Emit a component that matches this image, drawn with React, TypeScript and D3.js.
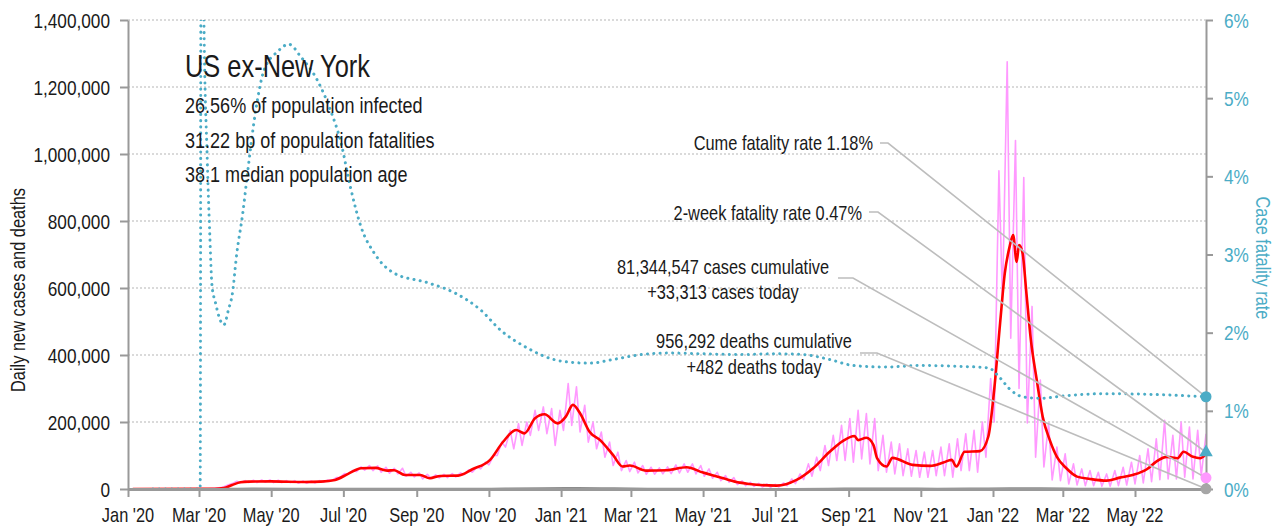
import { useEffect, useRef } from "react";
import * as d3 from "d3";

// condensed look: Liberation Sans squeezed horizontally
const FONT = "'Liberation Sans', Arial, sans-serif";
const SX = 0.82;
const BLUE = "#4bacc6";
const PINK = "#ff99ff";
const RED = "#ff0000";
const GREY = "#999999";
const LEADER = "#bdbdbd";
const INK = "#1a1a1a";

// ── axes ──────────────────────────────────────────────
const casesTicks = [0, 200000, 400000, 600000, 800000, 1000000, 1200000, 1400000];
const cfrTicks = [0, 1, 2, 3, 4, 5, 6];

// ── header text ───────────────────────────────────────
const title = "US ex-New York";
const statLines = [
  "26.56% of population infected",
  "31.22 bp of population fatalities",
  "38.1 median population age",
];

// ── latest values (markers at right edge) ─────────────
const cumeCfr = 1.18;
const twoWeekCfr = 0.47;
const casesToday = 33313;
const deathsToday = 482;

// ── 7-day average new cases (thousands) ───────────────
const casesAvg: [string, number][] = [
  ["2020-01-05", 0], ["2020-03-14", 0.5], ["2020-03-22", 3], ["2020-03-29", 12], ["2020-04-05", 20],
  ["2020-04-12", 22], ["2020-05-01", 22.7], ["2020-05-15", 21.5], ["2020-05-29", 21], ["2020-06-12", 22],
  ["2020-06-24", 27], ["2020-07-05", 45], ["2020-07-16", 62], ["2020-07-28", 63], ["2020-08-07", 55],
  ["2020-08-13", 56], ["2020-08-22", 42], ["2020-09-04", 42], ["2020-09-12", 32], ["2020-09-21", 39],
  ["2020-10-06", 40], ["2020-10-18", 59], ["2020-11-02", 87], ["2020-11-13", 141], ["2020-11-24", 176],
  ["2020-12-01", 166], ["2020-12-10", 211], ["2020-12-18", 223], ["2020-12-29", 196], ["2021-01-05", 216],
  ["2021-01-11", 251], ["2021-01-17", 226], ["2021-01-25", 171], ["2021-02-03", 146], ["2021-02-14", 101],
  ["2021-02-22", 67], ["2021-02-28", 70], ["2021-03-14", 55], ["2021-03-31", 56], ["2021-04-17", 65],
  ["2021-05-01", 49], ["2021-05-18", 32], ["2021-06-01", 19], ["2021-06-09", 15], ["2021-07-02", 10],
  ["2021-07-19", 27], ["2021-08-02", 62], ["2021-08-16", 111], ["2021-08-27", 143], ["2021-09-06", 158],
  ["2021-09-09", 146], ["2021-09-16", 153], ["2021-09-22", 131], ["2021-09-25", 92], ["2021-10-03", 67],
  ["2021-10-08", 93], ["2021-10-25", 72], ["2021-11-09", 69], ["2021-11-20", 79], ["2021-11-27", 87],
  ["2021-12-01", 67], ["2021-12-08", 111], ["2021-12-21", 113], ["2021-12-28", 156], ["2022-01-02", 296],
  ["2022-01-07", 495], ["2022-01-11", 645], ["2022-01-15", 723], ["2022-01-18", 758], ["2022-01-21", 678],
  ["2022-01-23", 728], ["2022-01-26", 704], ["2022-01-29", 594], ["2022-02-02", 445], ["2022-02-07", 325],
  ["2022-02-12", 216], ["2022-02-18", 146], ["2022-02-24", 96], ["2022-03-04", 62], ["2022-03-13", 37],
  ["2022-03-24", 30], ["2022-04-07", 25], ["2022-04-18", 34], ["2022-04-29", 42], ["2022-05-11", 59],
  ["2022-05-19", 82], ["2022-05-28", 96], ["2022-06-06", 92], ["2022-06-11", 111], ["2022-06-19", 96],
  ["2022-06-25", 92], ["2022-06-30", 104],
];

// ── daily new cases: weekly high / low (thousands), weeks from Sun 1 Mar 2020 ──
const dailyWeekStart = "2020-03-01";
const dailyHigh = [
  0.5, 1, 4, 13, 23, 25, 26, 27, 27, 26, 25, 25, 24, 24, 25, 27, 34, 46, 56, 66,
  70, 69, 65, 62, 62, 50, 48, 44, 42, 44, 46, 48, 57, 66, 80, 100, 140, 175, 195, 200,
  235, 245, 240, 235, 315, 305, 250, 200, 170, 140, 110, 85, 80, 70, 65, 63, 66, 72, 75, 75,
  70, 60, 50, 40, 34, 24, 20, 17, 15, 14, 18, 30, 45, 75, 95, 130, 160, 190, 210, 235,
  225, 210, 160, 140, 135, 120, 115, 110, 115, 125, 135, 150, 165, 175, 200, 330, 950, 1275, 1040, 930,
  545, 325, 197, 125, 105, 75, 60, 55, 50, 45, 55, 65, 80, 100, 120, 150, 205, 160, 200, 185,
  175, 165,
];
const dailyLow = [
  0.2, 0.4, 1.5, 7, 16, 19, 19, 19, 20, 19, 19, 19, 17, 17, 18, 20, 25, 35, 44, 52,
  56, 55, 50, 47, 45, 38, 36, 30, 31, 33, 34, 36, 43, 50, 60, 72, 100, 125, 120, 130,
  160, 175, 165, 130, 175, 190, 170, 140, 120, 95, 70, 55, 52, 48, 44, 44, 45, 46, 48, 50,
  45, 38, 32, 25, 20, 13, 10, 8, 6, 5, 6, 10, 16, 28, 38, 55, 70, 85, 85, 80,
  90, 75, 55, 50, 45, 40, 38, 35, 35, 40, 40, 35, 55, 55, 50, 95, 200, 560, 450, 300,
  197, 95, 66, 27, 25, 15, 12, 10, 10, 8, 8, 10, 12, 15, 18, 22, 28, 30, 30, 35,
  30, 40,
];

// ── 7-day average new deaths (thousands) ──────────────
const deathsAvg: [string, number][] = [
  ["2020-01-05", 0], ["2020-03-10", 0], ["2020-03-25", 0.4], ["2020-04-15", 1.3], ["2020-05-15", 1.1],
  ["2020-06-15", 0.6], ["2020-07-15", 0.8], ["2020-08-10", 1.0], ["2020-09-15", 0.7], ["2020-10-15", 0.7],
  ["2020-11-15", 1.2], ["2020-12-15", 2.3], ["2021-01-15", 2.9], ["2021-02-15", 2.1], ["2021-03-15", 1.0],
  ["2021-04-15", 0.65], ["2021-05-15", 0.55], ["2021-06-15", 0.3], ["2021-07-15", 0.25], ["2021-08-15", 0.8],
  ["2021-09-15", 1.8], ["2021-10-15", 1.4], ["2021-11-15", 1.0], ["2021-12-15", 1.2], ["2022-01-15", 1.9],
  ["2022-02-10", 2.2], ["2022-03-15", 1.0], ["2022-04-15", 0.45], ["2022-05-15", 0.3], ["2022-06-30", 0.3],
];

// ── case fatality rate (%) ────────────────────────────
const cfr: [string, number][] = [
  ["2020-01-22", 0], ["2020-03-01", 0], ["2020-03-02", 0], ["2020-03-03", 11], ["2020-03-05", 6.2],
  ["2020-03-08", 4.2], ["2020-03-10", 3.3], ["2020-03-12", 2.6], ["2020-03-15", 2.38], ["2020-03-18", 2.2],
  ["2020-03-22", 2.1], ["2020-03-26", 2.3], ["2020-03-29", 2.48], ["2020-04-02", 3.02], ["2020-04-07", 3.53],
  ["2020-04-11", 4.04], ["2020-04-18", 4.85], ["2020-04-25", 5.36], ["2020-05-06", 5.59], ["2020-05-16", 5.69],
  ["2020-05-26", 5.53], ["2020-06-09", 5.23], ["2020-06-20", 4.85], ["2020-06-29", 4.43], ["2020-07-07", 3.86],
  ["2020-07-16", 3.35], ["2020-07-27", 3.02], ["2020-08-13", 2.76], ["2020-09-10", 2.64], ["2020-10-03", 2.51],
  ["2020-10-25", 2.29], ["2020-11-11", 2.03], ["2020-12-04", 1.8], ["2020-12-25", 1.66], ["2021-01-10", 1.62],
  ["2021-01-25", 1.61], ["2021-02-15", 1.66], ["2021-03-10", 1.72], ["2021-04-01", 1.74], ["2021-05-01", 1.73],
  ["2021-06-01", 1.72], ["2021-07-01", 1.73], ["2021-07-25", 1.72], ["2021-08-15", 1.66], ["2021-09-05", 1.58],
  ["2021-10-01", 1.56], ["2021-11-01", 1.58], ["2021-12-01", 1.57], ["2021-12-28", 1.55], ["2022-01-07", 1.42],
  ["2022-01-15", 1.28], ["2022-01-26", 1.18], ["2022-02-10", 1.16], ["2022-03-01", 1.19], ["2022-04-07", 1.22],
  ["2022-05-15", 1.21], ["2022-06-30", 1.18],
];

// ── right-side callouts ───────────────────────────────
const callouts = [
  { lines: ["Cume fatality rate 1.18%"], anchor: "end", tx: 873, ty: [150], lx: 880, ly: 143, bend: 888, target: "cume" },
  { lines: ["2-week fatality rate 0.47%"], anchor: "end", tx: 862, ty: [220], lx: 869, ly: 212, bend: 878, target: "twoWeek" },
  { lines: ["81,344,547 cases cumulative", "+33,313 cases today"], anchor: "middle", tx: 723, ty: [274, 299], lx: 838, ly: 278, bend: 853, target: "cases" },
  { lines: ["956,292 deaths cumulative", "+482 deaths today"], anchor: "middle", tx: 754, ty: [348, 374], lx: 860, ly: 353, bend: 877, target: "deaths" },
];

type Sel = d3.Selection<any, unknown, null, undefined>;

function label(parent: Sel, x: number, y: number, str: string, size: number, fill: string, anchor = "start", rotate = 0) {
  return parent.append("text")
    .attr("transform", `translate(${x},${y}) rotate(${rotate}) scale(${SX},1)`)
    .attr("text-anchor", anchor)
    .attr("font-family", FONT).attr("font-size", size).attr("fill", fill)
    .text(str);
}

export default function App() {
  const svgRef = useRef<SVGSVGElement>(null);

  useEffect(() => {
    document.body.style.margin = "0";
    if (!svgRef.current) return;
    const svg = d3.select(svgRef.current);
    svg.selectAll("*").remove();

    const L = 128, R = 1206, T = 20, B = 489;
    const parse = d3.utcParse("%Y-%m-%d");
    const x = d3.scaleUtc().domain([parse("2020-01-01")!, parse("2022-06-30")!]).range([L, R]);
    const y = d3.scaleLinear().domain([0, 1400000]).range([B, T]);
    const yR = d3.scaleLinear().domain([0, 6]).range([B, T]);

    svg.append("defs").append("clipPath").attr("id", "plot-clip")
      .append("rect").attr("x", L).attr("y", T).attr("width", R - L).attr("height", B - T);

    // ── gridlines ──
    svg.append("g").selectAll("line").data(casesTicks.slice(1)).join("line")
      .attr("x1", L).attr("x2", R)
      .attr("y1", d => y(d)).attr("y2", d => y(d))
      .attr("stroke", "#b5b5b5").attr("stroke-width", 1)
      .attr("stroke-dasharray", "2,2");

    const plot = svg.append("g").attr("clip-path", "url(#plot-clip)");

    // ── daily cases (pink) ──
    const ws = parse(dailyWeekStart)!;
    const pinkPts: [Date, number][] = [[parse("2020-01-05")!, 0]];
    dailyHigh.forEach((hi, i) => {
      const d0 = d3.utcDay.offset(ws, 7 * i);
      pinkPts.push([d0, dailyLow[i] * 1000]);
      pinkPts.push([d3.utcDay.offset(d0, 4), hi * 1000]);
    });
    plot.append("path")
      .datum(pinkPts)
      .attr("fill", "none").attr("stroke", PINK).attr("stroke-width", 1.6)
      .attr("stroke-linejoin", "round")
      .attr("d", d3.line<[Date, number]>().x(d => x(d[0])).y(d => y(d[1])));

    // ── 7-day avg cases (red) ──
    plot.append("path")
      .datum(casesAvg)
      .attr("fill", "none").attr("stroke", RED).attr("stroke-width", 2.6)
      .attr("stroke-linejoin", "round")
      .attr("d", d3.line<[string, number]>()
        .curve(d3.curveMonotoneX)
        .x(d => x(parse(d[0])!)).y(d => y(d[1] * 1000)));

    // ── deaths (grey) ──
    plot.append("path")
      .datum(deathsAvg)
      .attr("fill", "none").attr("stroke", "#8c8c8c").attr("stroke-width", 2)
      .attr("d", d3.line<[string, number]>()
        .curve(d3.curveMonotoneX)
        .x(d => x(parse(d[0])!)).y(d => y(d[1] * 1000)));

    // ── header text ──
    label(svg, 185, 77, title, 31, INK);
    statLines.forEach((s, i) => label(svg, 185, 113 + i * 34.7, s, 22, INK));

    // ── case fatality rate (blue dotted) ──
    plot.append("path")
      .datum(cfr)
      .attr("fill", "none").attr("stroke", BLUE).attr("stroke-width", 3)
      .attr("stroke-linecap", "round").attr("stroke-dasharray", "0.1,6.2")
      .attr("d", d3.line<[string, number]>()
        .curve(d3.curveMonotoneX)
        .x(d => x(parse(d[0])!)).y(d => yR(d[1])));

    // ── axes (lines via d3-axis, labels drawn squeezed) ──
    const styleAxis = (g: Sel) => {
      g.select(".domain").attr("stroke", GREY).attr("stroke-width", 2);
      g.selectAll(".tick line").attr("stroke", GREY).attr("stroke-width", 2);
      g.selectAll(".tick text").remove();
    };

    const xTicks = x.ticks(d3.utcMonth.every(2)!);
    const gx = svg.append("g").attr("transform", `translate(0,${B})`)
      .call(d3.axisBottom(x).tickValues(xTicks).tickSize(8).tickSizeOuter(0));
    styleAxis(gx);
    gx.select(".domain").attr("stroke-width", 3);
    const fmtX = d3.utcFormat("%b '%y");
    xTicks.forEach(d => label(svg, x(d), 522, fmtX(d), 20, INK, "middle"));

    const gy = svg.append("g").attr("transform", `translate(${L},0)`)
      .call(d3.axisLeft(y).tickValues(casesTicks).tickSize(8).tickSizeOuter(0));
    styleAxis(gy);
    const fmtY = d3.format(",");
    casesTicks.forEach(v => label(svg, 110, y(v) + 7.5, fmtY(v), 21, INK, "end"));

    const gr = svg.append("g").attr("transform", `translate(${R},0)`)
      .call(d3.axisRight(yR).tickValues(cfrTicks).tickSize(7).tickSizeOuter(0));
    styleAxis(gr);
    cfrTicks.forEach(v => label(svg, 1224, yR(v) + 7.5, `${v}%`, 21, BLUE));

    // axis titles
    label(svg, 25, 290, "Daily new cases and deaths", 20, INK, "middle", -90);
    label(svg, 1256, 258, "Case fatality rate", 20, BLUE, "middle", 90);

    // ── callouts ──
    const targetY: Record<string, number> = {
      cume: yR(cumeCfr),
      twoWeek: yR(twoWeekCfr),
      cases: y(casesToday),
      deaths: y(deathsToday),
    };
    callouts.forEach(c => {
      svg.append("polyline")
        .attr("points", `${c.lx},${c.ly} ${c.bend},${c.ly} ${R},${targetY[c.target]}`)
        .attr("fill", "none").attr("stroke", LEADER).attr("stroke-width", 1.6);
      c.lines.forEach((ln, i) => label(svg, c.tx, c.ty[i], ln, 20, INK, c.anchor));
    });

    // ── end markers ──
    svg.append("circle").attr("cx", R).attr("cy", targetY.cume).attr("r", 5.5).attr("fill", BLUE);
    svg.append("path")
      .attr("transform", `translate(${R},${targetY.twoWeek})`)
      .attr("d", d3.symbol(d3.symbolTriangle, 80)())
      .attr("fill", BLUE);
    svg.append("circle").attr("cx", R).attr("cy", targetY.cases).attr("r", 5.5).attr("fill", PINK);
    svg.append("circle").attr("cx", R).attr("cy", targetY.deaths).attr("r", 5.5).attr("fill", "#a6a6a6");
  }, []);

  return <svg ref={svgRef} width={1281} height={529} style={{ display: "block", background: "#fff" }} />;
}
